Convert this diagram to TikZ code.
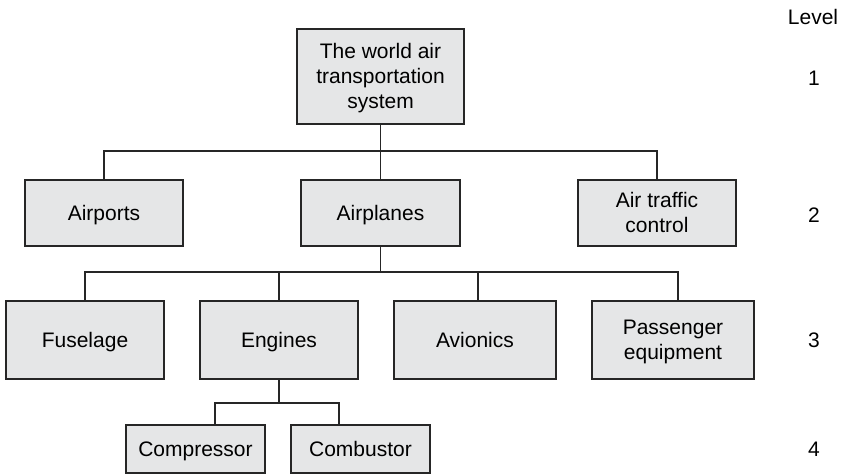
\documentclass[tikz,border=0pt]{standalone}
\usepackage{fontspec}
\setmainfont{Liberation Sans}
% fixed line height so every label sits at the same optical centre
\newcommand{\lnstrut}{\rule[-5pt]{0pt}{24.8pt}}
\begin{document}
\begin{tikzpicture}[x=1pt,y=-1pt,
  every node/.style={font=\fontsize{21}{25}\selectfont},
  block/.style={draw=black!85, fill=boxgray, line width=1.2pt, inner sep=0pt,
    align=center, minimum height=#1},
  block/.default=66pt,
  link/.style={draw=black!85, line width=1.2pt},
  lvl/.style={inner sep=0pt}]
\definecolor{boxgray}{RGB}{229,230,231}
\useasboundingbox (0,0) rectangle (841,474);

% level 1
\node[block=95pt, minimum width=167pt] (top) at (380.5,76.5)
  {\lnstrut The world air\\\lnstrut transportation\\\lnstrut system};
% level 2
\node[block, minimum width=158pt] (airports)  at (104,213)   {\lnstrut Airports};
\node[block, minimum width=159pt] (airplanes) at (380.5,213) {\lnstrut Airplanes};
\node[block, minimum width=158pt] (atc)       at (657,213)   {\lnstrut Air traffic\\\lnstrut control};
% level 3
\node[block=78pt, minimum width=158pt] (fuselage)  at (85,340)  {\lnstrut Fuselage};
\node[block=78pt, minimum width=158pt] (engines)   at (279,340) {\lnstrut Engines};
\node[block=78pt, minimum width=162pt] (avionics)  at (475,340) {\lnstrut Avionics};
\node[block=78pt, minimum width=162pt] (passenger) at (673,340) {\lnstrut Passenger\\\lnstrut equipment};
% level 4
\node[block=48pt, minimum width=139pt] (compressor) at (195.5,449) {\lnstrut Compressor};
\node[block=48pt, minimum width=139pt] (combustor)  at (360.5,449) {\lnstrut Combustor};

% level column
\node[lvl] (lvlhead) at (813,17)  {\lnstrut Level};
\node[lvl] (lvl1)    at (814,78)  {\lnstrut 1};
\node[lvl] (lvl2)    at (814,215) {\lnstrut 2};
\node[lvl] (lvl3)    at (814,340) {\lnstrut 3};
\node[lvl] (lvl4)    at (814,449) {\lnstrut 4};

% bus bars
\coordinate (bus1) at (380.5,151);
\coordinate (bus2) at (380.5,272);
\coordinate (bus3) at (279,403);

% connectors
\draw[link] (top.south) -- (airplanes.north);
\draw[link] (airports.north) |- (bus1) -| (atc.north);

\draw[link] (airplanes.south) -- (bus2);
\draw[link] (fuselage.north) |- (bus2) -| ([xshift=5pt]passenger.north);
\draw[link] (engines.north) -- (engines.north |- bus2);
\draw[link] ([xshift=3pt]avionics.north) -- ([xshift=3pt]avionics.north |- bus2);

\draw[link] (engines.south) -- (bus3);
\draw[link] ([xshift=19.5pt]compressor.north) |- (bus3) -| ([xshift=-21.5pt]combustor.north);
\end{tikzpicture}
\end{document}
